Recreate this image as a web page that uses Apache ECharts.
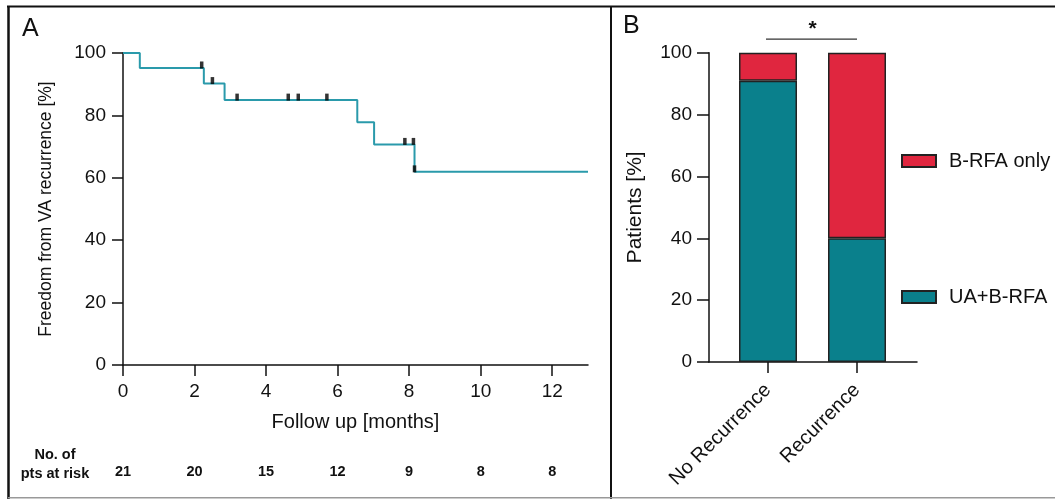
<!DOCTYPE html>
<html>
<head>
<meta charset="utf-8">
<script src="https://cdn.jsdelivr.net/npm/echarts@6/dist/echarts.min.js"></script>
<style>html,body{margin:0;padding:0;background:#fff;}#c{width:1055px;height:499px;}</style>
</head>
<body>
<div id="c"></div>
<script>
// Panel A: Kaplan-Meier
const kmTimes = [0, 0.47, 2.26, 2.84, 6.55, 7.02, 8.15, 13];
const kmSurvival = [100, 95.2, 90.2, 84.9, 77.8, 70.7, 61.9, 61.9];
const censorTimes = [2.2, 2.5, 3.19, 4.62, 4.9, 5.7, 7.88, 8.12, 8.15];
const censorSurvival = [95.2, 90.2, 84.9, 84.9, 84.9, 84.9, 70.7, 70.7, 61.9];
const xTicksA = [0, 2, 4, 6, 8, 10, 12];
const atRisk = [21, 20, 15, 12, 9, 8, 8];
// Panel B: stacked bars
const groups = ['No Recurrence', 'Recurrence'];
const uaBrfa = [90.9, 40];
const brfaOnly = [9.1, 60];
const yTicks = [0, 20, 40, 60, 80, 100];

const FONT = 'Liberation Sans';
const TXT = '#111';
const TEAL_LINE = '#2a9aab';
const TEAL = '#0a808c';
const RED = '#e0263f';

const chart = echarts.init(document.getElementById('c'));

const kmData = kmTimes.map((t, i) => [t, kmSurvival[i]]);
const censorData = censorTimes.map((t, i) => [t, censorSurvival[i]]);

const axisLineStyle = { color: '#111', width: 1.5 };
const tickFont = { fontFamily: FONT, fontSize: 19, color: TXT };
const nameFont = { fontFamily: FONT, fontSize: 20, color: TXT };

chart.setOption({
  animation: false,
  textStyle: { fontFamily: FONT },
  grid: [
    { left: 123, top: 53, width: 465, height: 312 },
    { left: 709, top: 52.7, width: 208, height: 309.3 },
    { left: 723.5, top: 52.7, width: 178, height: 309.3 }
  ],
  xAxis: [
    {
      gridIndex: 0, type: 'value', min: 0, max: 13,
      axisLine: { show: true, lineStyle: axisLineStyle },
      axisTick: { show: true, length: 11, lineStyle: axisLineStyle, customValues: xTicksA },
      axisLabel: Object.assign({ margin: 17, customValues: xTicksA }, tickFont),
      splitLine: { show: false },
      name: 'Follow up [months]', nameLocation: 'middle', nameGap: 47,
      nameTextStyle: nameFont
    },
    {
      gridIndex: 0, type: 'value', min: 0, max: 13, position: 'bottom', offset: 99,
      axisLine: { show: false }, axisTick: { show: false }, splitLine: { show: false },
      axisLabel: {
        margin: 0, customValues: xTicksA, fontFamily: FONT, fontSize: 14.5, fontWeight: 'bold', color: TXT,
        formatter: v => String(atRisk[xTicksA.indexOf(v)])
      },
      name: 'No. of\npts at risk', nameLocation: 'start', nameGap: 68,
      nameTextStyle: { fontFamily: FONT, fontSize: 14.5, fontWeight: 'bold', color: TXT, lineHeight: 19, align: 'center', padding: [9, 0, 0, 0] }
    },
    {
      gridIndex: 1, type: 'value', min: 0, max: 1,
      axisLine: { show: true, lineStyle: axisLineStyle },
      axisTick: { show: false }, axisLabel: { show: false }, splitLine: { show: false }
    },
    {
      gridIndex: 2, type: 'category', data: groups,
      axisLine: { show: false },
      axisTick: { show: true, alignWithLabel: true, length: 11, lineStyle: axisLineStyle },
      axisLabel: Object.assign({ rotate: 45, margin: 25 }, nameFont)
    }
  ],
  yAxis: [
    {
      gridIndex: 0, type: 'value', min: 0, max: 100, interval: 20,
      axisLine: { show: true, lineStyle: axisLineStyle },
      axisTick: { show: true, length: 11, lineStyle: axisLineStyle },
      axisLabel: Object.assign({ margin: 17 }, tickFont),
      splitLine: { show: false },
      name: 'Freedom from VA recurrence [%]', nameLocation: 'middle', nameGap: 68,
      nameTextStyle: { fontFamily: FONT, fontSize: 17.5, color: TXT }
    },
    {
      gridIndex: 1, type: 'value', min: 0, max: 100, interval: 20,
      axisLine: { show: true, lineStyle: axisLineStyle },
      axisTick: { show: true, length: 12, lineStyle: axisLineStyle },
      axisLabel: Object.assign({ margin: 17 }, tickFont),
      splitLine: { show: false },
      name: 'Patients [%]', nameLocation: 'middle', nameGap: 63,
      nameTextStyle: { fontFamily: FONT, fontSize: 21, color: TXT }
    },
    {
      gridIndex: 2, type: 'value', min: 0, max: 100, show: false, splitLine: { show: false }
    }
  ],
  legend: [
    {
      data: ['B-RFA only'], left: 896, top: 146, itemWidth: 34, itemHeight: 12, icon: 'rect',
      textStyle: Object.assign({ padding: [0, 0, 0, 8] }, nameFont), selectedMode: false
    },
    {
      data: ['UA+B-RFA'], left: 896, top: 282, itemWidth: 34, itemHeight: 12, icon: 'rect',
      textStyle: Object.assign({ padding: [0, 0, 0, 8] }, nameFont), selectedMode: false
    }
  ],
  series: [
    {
      type: 'line', xAxisIndex: 0, yAxisIndex: 0, data: kmData, step: 'end',
      showSymbol: false, symbol: 'none',
      lineStyle: { color: TEAL_LINE, width: 2 }, z: 3
    },
    {
      type: 'scatter', xAxisIndex: 0, yAxisIndex: 0, data: censorData,
      symbol: 'rect', symbolSize: [3.5, 7], symbolOffset: [0, -3],
      itemStyle: { color: '#000' }, z: 4
    },
    {
      name: 'UA+B-RFA', type: 'bar', xAxisIndex: 3, yAxisIndex: 2, stack: 'p', data: uaBrfa,
      barWidth: 58, itemStyle: { color: TEAL, borderColor: '#222', borderWidth: 1.5 }
    },
    {
      name: 'B-RFA only', type: 'bar', xAxisIndex: 3, yAxisIndex: 2, stack: 'p', data: brfaOnly,
      barWidth: 58, itemStyle: { color: RED, borderColor: '#222', borderWidth: 1.5 }
    }
  ],
  graphic: [
    { type: 'line', shape: { x1: 7, y1: 6.5, x2: 1055, y2: 6.5 }, style: { stroke: '#111', lineWidth: 2 } },
    { type: 'line', shape: { x1: 8.5, y1: 6, x2: 8.5, y2: 499 }, style: { stroke: '#111', lineWidth: 2.5 } },
    { type: 'line', shape: { x1: 611, y1: 6, x2: 611, y2: 499 }, style: { stroke: '#111', lineWidth: 2 } },
    { type: 'line', shape: { x1: 8, y1: 497.8, x2: 1055, y2: 497.8 }, style: { stroke: '#999', lineWidth: 1.5 } },
    { type: 'text', left: 22, top: 17, style: { text: 'A', font: '25px "Liberation Sans"', fill: TXT } },
    { type: 'text', left: 623, top: 14, style: { text: 'B', font: '25px "Liberation Sans"', fill: TXT } }
  ]
});

// significance bracket positioned through the axes' own scales
const xL = chart.convertToPixel({ xAxisIndex: 3 }, groups[0]);
const xR = chart.convertToPixel({ xAxisIndex: 3 }, groups[1]);
const yLine = chart.convertToPixel({ yAxisIndex: 2 }, 104.4);
chart.setOption({
  graphic: [
    { id: 'sig', type: 'line', shape: { x1: xL - 2, y1: yLine, x2: xR, y2: yLine }, style: { stroke: '#333', lineWidth: 1.2 } },
    { id: 'star', type: 'text', x: (xL + xR) / 2, y: yLine + 1, style: { text: '*', font: 'bold 21px "Liberation Sans"', fill: TXT, align: 'center', verticalAlign: 'bottom' } }
  ]
});
</script>
</body>
</html>
